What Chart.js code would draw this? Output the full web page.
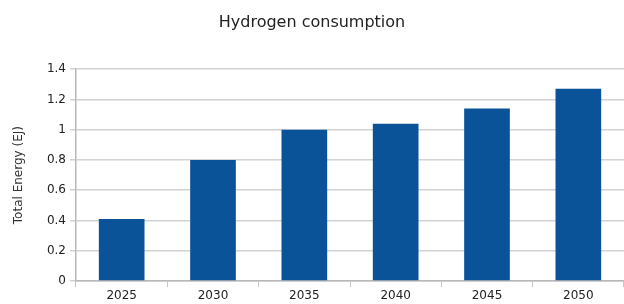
<!DOCTYPE html>
<html>
<head>
<meta charset="utf-8">
<script src="https://cdn.jsdelivr.net/npm/chart.js@4"></script>
<style>
  html, body { margin: 0; padding: 0; background: #fff; }
  #wrap { width: 624px; height: 304px; }
</style>
</head>
<body>
<div id="wrap"><canvas id="hydrogenChart"></canvas></div>
<script>
const years = ['2025', '2030', '2035', '2040', '2045', '2050'];
const energy = [0.41, 0.8, 1.0, 1.04, 1.14, 1.27];
const yTicks = [0, 0.2, 0.4, 0.6, 0.8, 1, 1.2, 1.4];

const ctx = document.getElementById('hydrogenChart');
const fontFamily = 'DejaVu Sans';

new Chart(ctx, {
  type: 'bar',
  data: {
    labels: years,
    datasets: [
      {
        label: 'Hydrogen',
        data: energy,
        backgroundColor: '#0a5399',
        borderWidth: 0,
        categoryPercentage: 1,
        barPercentage: 0.5
      }
    ]
  },
  options: {
    responsive: true,
    maintainAspectRatio: false,
    animation: false,
    layout: { padding: 0 },
    plugins: {
      legend: { display: false },
      tooltip: { enabled: false },
      title: {
        display: true,
        text: 'Hydrogen consumption',
        color: '#222',
        font: { family: fontFamily, size: 16, weight: 'normal' },
        padding: { top: 13, bottom: 37 }
      }
    },
    scales: {
      x: {
        afterFit: (scale) => { scale.height = 23; },
        grid: {
          offset: true,
          drawOnChartArea: false,
          drawTicks: true,
          tickLength: 6,
          color: '#c4c4c4'
        },
        border: { color: '#b8b8b8', width: 1.5 },
        ticks: {
          color: '#222',
          padding: 2,
          font: { family: fontFamily, size: 12 }
        }
      },
      y: {
        min: 0,
        max: 1.4,
        afterFit: (scale) => { scale.width = 76; },
        afterBuildTicks: (scale) => {
          scale.ticks = yTicks.map((v) => ({ value: v }));
        },
        grid: {
          color: '#d2d2d2',
          lineWidth: 1.5,
          tickLength: 6
        },
        border: { color: '#b8b8b8', width: 1.5 },
        ticks: {
          color: '#222',
          padding: 4,
          font: { family: fontFamily, size: 12 },
          callback: (v) => String(Math.round(v * 10) / 10)
        },
        title: {
          display: true,
          text: 'Total Energy (EJ)',
          color: '#333',
          font: { family: fontFamily, size: 12 },
          padding: { top: 12, bottom: 0 }
        }
      }
    }
  }
});
</script>
</body>
</html>
